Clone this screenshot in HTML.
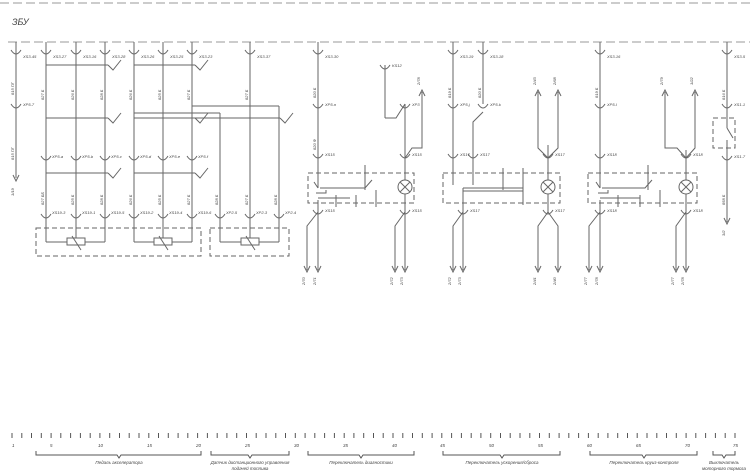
<!DOCTYPE html>
<html><head><meta charset="utf-8"><style>
html,body{margin:0;padding:0;background:#fff;}
svg{display:block}
text{font-family:"Liberation Sans","DejaVu Sans",sans-serif;font-style:italic;fill:#444;}
</style></head><body>
<svg width="750" height="472" viewBox="0 0 750 472" xmlns="http://www.w3.org/2000/svg">
<g stroke="#666" fill="none" stroke-width="1">
<!-- top dashed lines -->
<line x1="0" y1="3" x2="750" y2="3" stroke-dasharray="9,4" stroke="#999"/>
<line x1="8" y1="42" x2="750" y2="42" stroke-dasharray="9,4" stroke="#999"/>

<!-- Section 1 columns -->
<line x1="16" y1="42" x2="16" y2="178"/>
<line x1="46" y1="42" x2="46" y2="242"/>
<line x1="76" y1="42" x2="76" y2="238"/>
<line x1="105" y1="42" x2="105" y2="242"/>
<line x1="134" y1="42" x2="134" y2="242"/>
<line x1="163" y1="42" x2="163" y2="238"/>
<line x1="192" y1="42" x2="192" y2="242"/>
<line x1="250" y1="42" x2="250" y2="238"/>
<line x1="220" y1="113" x2="220" y2="242"/>
<line x1="279" y1="106" x2="279" y2="242"/>
<line x1="192" y1="106" x2="279" y2="106"/>
<line x1="134" y1="113" x2="220" y2="113"/>
<!-- horizontal bars with switch marks -->
<line x1="46" y1="65" x2="108" y2="65"/><path d="M108 65 L113 70 L121 60"/>
<line x1="134" y1="65" x2="195" y2="65"/><path d="M195 65 L200 70 L208 60"/>
<line x1="46" y1="118" x2="108" y2="118"/><path d="M108 118 L113 123 L121 113"/>
<line x1="134" y1="118" x2="280" y2="118"/><path d="M280 118 L285 123 L293 113"/><path d="M195 118 L200 123 L208 113"/>
<line x1="46" y1="173" x2="108" y2="173"/><path d="M108 173 L113 178 L121 168"/>
<line x1="134" y1="173" x2="195" y2="173"/><path d="M195 173 L200 178 L208 168"/>
<!-- bottom connections to resistors -->
<line x1="46" y1="242" x2="67" y2="242"/><line x1="85" y1="242" x2="105" y2="242"/>
<line x1="134" y1="242" x2="154" y2="242"/><line x1="172" y1="242" x2="192" y2="242"/>
<line x1="220" y1="242" x2="241" y2="242"/><line x1="259" y1="242" x2="279" y2="242"/>
<rect x="67" y="238" width="18" height="7"/><rect x="154" y="238" width="18" height="7"/><rect x="241" y="238" width="18" height="7"/>
<line x1="72" y1="236" x2="81" y2="250"/><line x1="159" y1="236" x2="168" y2="250"/><line x1="246" y1="236" x2="255" y2="250"/>
<rect x="36" y="228" width="165" height="28" stroke-dasharray="5,3"/>
<rect x="210" y="228" width="79" height="28" stroke-dasharray="5,3"/>
<path d="M13 175 L16 181 L19 175"/>

<!-- connector cups -->
<g>
<path d="M11 50 Q16 58 21 50"/><path d="M41 50 Q46 58 51 50"/><path d="M71 50 Q76 58 81 50"/><path d="M100 50 Q105 58 110 50"/>
<path d="M129 50 Q134 58 139 50"/><path d="M158 50 Q163 58 168 50"/><path d="M187 50 Q192 58 197 50"/><path d="M245 50 Q250 58 255 50"/>
<path d="M11 104 Q16 112 21 104"/>
<path d="M41 156 Q46 164 51 156"/><path d="M71 156 Q76 164 81 156"/><path d="M100 156 Q105 164 110 156"/>
<path d="M129 156 Q134 164 139 156"/><path d="M158 156 Q163 164 168 156"/><path d="M187 156 Q192 164 197 156"/>
<path d="M41 214 Q46 222 51 214"/><path d="M71 214 Q76 222 81 214"/><path d="M100 214 Q105 222 110 214"/>
<path d="M129 214 Q134 222 139 214"/><path d="M158 214 Q163 222 168 214"/><path d="M187 214 Q192 222 197 214"/>
<path d="M215 214 Q220 222 225 214"/><path d="M245 214 Q250 222 255 214"/><path d="M274 214 Q279 222 284 214"/>
<!-- middle -->
<path d="M313 50 Q318 58 323 50"/><path d="M313 104 Q318 112 323 104"/><path d="M313 154 Q318 162 323 154"/><path d="M313 210 Q318 218 323 210"/>
<path d="M380 65 Q385 73 390 65"/><path d="M400 104 Q405 112 410 104"/><path d="M400 154 Q405 162 410 154"/><path d="M400 210 Q405 218 410 210"/>
<path d="M448 50 Q453 58 458 50"/><path d="M478 50 Q483 58 488 50"/><path d="M448 104 Q453 112 458 104"/><path d="M478 104 Q483 112 488 104"/>
<path d="M448 154 Q453 162 458 154"/><path d="M468 154 Q473 162 478 154"/><path d="M543 154 Q548 162 553 154"/>
<path d="M458 210 Q463 218 468 210"/><path d="M543 210 Q548 218 553 210"/>
<path d="M595 50 Q600 58 605 50"/><path d="M595 104 Q600 112 605 104"/><path d="M595 154 Q600 162 605 154"/><path d="M595 210 Q600 218 605 210"/>
<path d="M681 154 Q686 162 691 154"/><path d="M681 210 Q686 218 691 210"/>
<path d="M722 50 Q727 58 732 50"/><path d="M722 104 Q727 112 732 104"/><path d="M722 156 Q727 164 732 156"/>
</g>

<!-- Section 2: diagnostics -->
<line x1="318" y1="42" x2="318" y2="188"/>
<path d="M318 188 L314 182"/>
<line x1="318" y1="200" x2="318" y2="212"/>
<path d="M318 212 L307 226 L307 270"/><line x1="318" y1="212" x2="318" y2="270"/>
<path d="M304 266 L307 272 L310 266"/><path d="M315 266 L318 272 L321 266"/>
<line x1="385" y1="65" x2="385" y2="118"/><path d="M385 118 L396 118 L405 104"/>
<line x1="405" y1="104" x2="405" y2="180"/><line x1="405" y1="194" x2="405" y2="212"/>
<path d="M405 158 L412 148 L422 148 L422 92"/><path d="M419 96 L422 90 L425 96"/>
<path d="M405 212 L395 226 L395 270"/><line x1="405" y1="212" x2="405" y2="270"/>
<path d="M392 266 L395 272 L398 266"/><path d="M402 266 L405 272 L408 266"/>
<circle cx="405" cy="187" r="7"/><line x1="400" y1="182" x2="410" y2="192"/><line x1="410" y1="182" x2="400" y2="192"/>
<rect x="308" y="173" width="106" height="30" stroke-dasharray="5,3"/>
<path d="M320 188 L365 188 L372 180"/><line x1="365" y1="165" x2="365" y2="190"/>
<path d="M316 193 L326 193 L326 190"/><line x1="318" y1="198" x2="350" y2="198"/>
<line x1="336" y1="195" x2="336" y2="207"/><line x1="356" y1="195" x2="356" y2="207"/><line x1="376" y1="190" x2="376" y2="207"/>

<!-- Section 3 -->
<line x1="453" y1="42" x2="453" y2="185"/><line x1="483" y1="42" x2="483" y2="104"/>
<path d="M483 112 L473 122 L473 185"/>
<rect x="443" y="173" width="117" height="30" stroke-dasharray="5,3"/>
<line x1="463" y1="188" x2="463" y2="212"/><line x1="463" y1="188" x2="523" y2="188"/><line x1="463" y1="191" x2="523" y2="191"/>
<line x1="503" y1="168" x2="503" y2="190"/><line x1="523" y1="168" x2="523" y2="205"/>
<path d="M463 212 L453 226 L453 270"/><line x1="463" y1="212" x2="463" y2="270"/>
<path d="M450 266 L453 272 L456 266"/><path d="M460 266 L463 272 L466 266"/>
<line x1="548" y1="145" x2="548" y2="180"/><line x1="548" y1="194" x2="548" y2="212"/>
<path d="M548 158 L538 148 L538 92"/><path d="M548 158 L558 148 L558 92"/>
<path d="M535 96 L538 90 L541 96"/><path d="M555 96 L558 90 L561 96"/>
<circle cx="548" cy="187" r="7"/><line x1="543" y1="182" x2="553" y2="192"/><line x1="553" y1="182" x2="543" y2="192"/>
<path d="M548 212 L538 226 L538 270"/><path d="M548 212 L558 226 L558 270"/>
<path d="M535 266 L538 272 L541 266"/><path d="M555 266 L558 272 L561 266"/>

<!-- Section 4 -->
<line x1="600" y1="42" x2="600" y2="188"/><path d="M600 188 L596 182"/>
<line x1="600" y1="200" x2="600" y2="212"/>
<path d="M600 212 L589 226 L589 270"/><line x1="600" y1="212" x2="600" y2="270"/>
<path d="M586 266 L589 272 L592 266"/><path d="M597 266 L600 272 L603 266"/>
<rect x="588" y="173" width="109" height="30" stroke-dasharray="5,3"/>
<path d="M602 188 L645 188 L652 180"/><line x1="648" y1="165" x2="648" y2="190"/>
<path d="M598 193 L608 193 L608 190"/><line x1="600" y1="198" x2="640" y2="198"/>
<line x1="618" y1="195" x2="618" y2="207"/><line x1="640" y1="195" x2="640" y2="207"/><line x1="660" y1="190" x2="660" y2="207"/>
<line x1="686" y1="150" x2="686" y2="180"/><line x1="686" y1="194" x2="686" y2="212"/>
<path d="M686 158 L677 148 L665 148 L665 92"/><path d="M686 158 L695 148 L695 92"/>
<path d="M662 96 L665 90 L668 96"/><path d="M692 96 L695 90 L698 96"/>
<circle cx="686" cy="187" r="7"/><line x1="681" y1="182" x2="691" y2="192"/><line x1="691" y1="182" x2="681" y2="192"/>
<path d="M686 212 L676 226 L676 270"/><line x1="686" y1="212" x2="686" y2="270"/>
<path d="M673 266 L676 272 L679 266"/><path d="M683 266 L686 272 L689 266"/>

<!-- Section 5 -->
<line x1="727" y1="42" x2="727" y2="128"/><path d="M727 128 L733 138"/><line x1="727" y1="140" x2="727" y2="222"/>
<rect x="713" y="118" width="22" height="30" stroke-dasharray="5,3"/>
<path d="M724 218 L727 224 L730 218"/>

<!-- ruler -->
<g stroke="#555">
<path d="M12 433 V438 M21.8 433 V438 M31.5 433 V438 M41.3 433 V438 M51.1 433 V438 M60.8 433 V438 M70.6 433 V438 M80.4 433 V438 M90.2 433 V438 M99.9 433 V438 M109.7 433 V438 M119.5 433 V438 M129.2 433 V438 M139 433 V438 M148.8 433 V438 M158.5 433 V438 M168.3 433 V438 M178.1 433 V438 M187.8 433 V438 M197.6 433 V438 M207.4 433 V438 M217.2 433 V438 M226.9 433 V438 M236.7 433 V438 M246.5 433 V438 M256.2 433 V438 M266 433 V438 M275.8 433 V438 M285.5 433 V438 M295.3 433 V438 M305.1 433 V438 M314.8 433 V438 M324.6 433 V438 M334.4 433 V438 M344.2 433 V438 M353.9 433 V438 M363.7 433 V438 M373.5 433 V438 M383.2 433 V438 M393 433 V438 M402.8 433 V438 M412.5 433 V438 M422.3 433 V438 M432.1 433 V438 M441.8 433 V438 M451.6 433 V438 M461.4 433 V438 M471.2 433 V438 M480.9 433 V438 M490.7 433 V438 M500.5 433 V438 M510.2 433 V438 M520 433 V438 M529.8 433 V438 M539.5 433 V438 M549.3 433 V438 M559.1 433 V438 M568.8 433 V438 M578.6 433 V438 M588.4 433 V438 M598.2 433 V438 M607.9 433 V438 M617.7 433 V438 M627.5 433 V438 M637.2 433 V438 M647 433 V438 M656.8 433 V438 M666.5 433 V438 M676.3 433 V438 M686.1 433 V438 M695.8 433 V438 M705.6 433 V438 M715.4 433 V438 M725.2 433 V438 M735 433 V438"/>
<path d="M36 451 V455 H117 L119 458 L121 455 H201 V451"/>
<path d="M211 451 V455 H248 L250 458 L252 455 H289 V451"/>
<path d="M308 451 V455 H359 L361 458 L363 455 H414 V451"/>
<path d="M443 451 V455 H500 L502 458 L504 455 H560 V451"/>
<path d="M590 451 V455 H642 L644 458 L646 455 H697 V451"/>
<path d="M713 451 V455 H722 L724 458 L726 455 H735 V451"/>
</g>
</g>

<text x="12" y="25" font-size="9">ЗБУ</text>
<g font-size="4.5">
<text x="12" y="447">1</text><text x="50" y="447">5</text><text x="98" y="447">10</text><text x="147" y="447">15</text><text x="196" y="447">20</text><text x="245" y="447">25</text><text x="294" y="447">30</text><text x="343" y="447">35</text><text x="392" y="447">40</text><text x="440" y="447">45</text><text x="489" y="447">50</text><text x="538" y="447">55</text><text x="587" y="447">60</text><text x="636" y="447">65</text><text x="685" y="447">70</text><text x="733" y="447">75</text>
<text x="119" y="464" text-anchor="middle">Педаль акселератора</text>
<text x="250" y="464" text-anchor="middle">Датчик дистанционного управления</text>
<text x="250" y="470" text-anchor="middle">подачей топлива</text>
<text x="361" y="464" text-anchor="middle">Переключатель диагностики</text>
<text x="502" y="464" text-anchor="middle">Переключатель ускорения/сброса</text>
<text x="644" y="464" text-anchor="middle">Переключатель круиз-контроля</text>
<text x="724" y="464" text-anchor="middle">Выключатель</text>
<text x="724" y="470" text-anchor="middle">моторного тормоза</text>
</g>
<g font-size="4">
<text x="23" y="58">XS3-45</text><text x="53" y="58">XS3-27</text><text x="83" y="58">XS3-16</text><text x="112" y="58">XS3-28</text>
<text x="141" y="58">XS3-26</text><text x="170" y="58">XS3-25</text><text x="199" y="58">XS3-23</text><text x="257" y="58">XS3-37</text>
<text x="23" y="106">XP5-7</text>
<text x="52" y="158">XP5-a</text><text x="82" y="158">XP5-b</text><text x="111" y="158">XP5-c</text><text x="140" y="158">XP5-d</text><text x="169" y="158">XP5-e</text><text x="198" y="158">XP5-f</text>
<text x="52" y="214">XS19-3</text><text x="82" y="214">XS19-1</text><text x="111" y="214">XS19-5</text><text x="140" y="214">XS19-2</text><text x="169" y="214">XS19-4</text><text x="198" y="214">XS19-6</text>
<text x="226" y="214">XP2-5</text><text x="256" y="214">XP2-3</text><text x="285" y="214">XP2-4</text>
<text x="325" y="58">XS3-30</text><text x="325" y="106">XP5-n</text><text x="325" y="156">XS15</text><text x="325" y="212">XS15</text>
<text x="392" y="67">KS12</text><text x="412" y="106">XP3</text><text x="412" y="156">XS15</text><text x="412" y="212">XS15</text>
<text x="460" y="58">XS3-19</text><text x="490" y="58">XS3-18</text><text x="460" y="106">XP5-j</text><text x="490" y="106">XP5-k</text>
<text x="460" y="156">XS17</text><text x="480" y="156">XS17</text><text x="555" y="156">XS17</text><text x="470" y="212">XS17</text><text x="555" y="212">XS17</text>
<text x="607" y="58">XS3-16</text><text x="607" y="106">XP5-l</text><text x="607" y="156">XS18</text><text x="607" y="212">XS18</text>
<text x="693" y="156">XS18</text><text x="693" y="212">XS18</text>
<text x="734" y="58">XS3-5</text><text x="734" y="106">XS1-1</text><text x="734" y="158">XS1-7</text>
</g>
<g font-size="4">
<text transform="translate(14,95) rotate(-90)">815 ПГ</text><text transform="translate(14,160) rotate(-90)">815 ПГ</text><text transform="translate(14,196) rotate(-90)">1/19</text>
<text transform="translate(44,100) rotate(-90)">827 Б</text><text transform="translate(74,100) rotate(-90)">826 Б</text><text transform="translate(103,100) rotate(-90)">828 Б</text>
<text transform="translate(132,100) rotate(-90)">826 Б</text><text transform="translate(161,100) rotate(-90)">825 Б</text><text transform="translate(190,100) rotate(-90)">827 Б</text><text transform="translate(248,100) rotate(-90)">827 Б</text>
<text transform="translate(44,205) rotate(-90)">827 ББ</text><text transform="translate(74,205) rotate(-90)">825 Б</text><text transform="translate(103,205) rotate(-90)">828 Б</text>
<text transform="translate(132,205) rotate(-90)">826 Б</text><text transform="translate(161,205) rotate(-90)">825 Б</text><text transform="translate(190,205) rotate(-90)">827 Б</text>
<text transform="translate(218,205) rotate(-90)">828 Б</text><text transform="translate(248,205) rotate(-90)">827 Б</text><text transform="translate(277,205) rotate(-90)">828 Б</text>
<text transform="translate(316,98) rotate(-90)">820 Б</text><text transform="translate(316,150) rotate(-90)">820 Ф</text>
<text transform="translate(316,285) rotate(-90)">2/71</text><text transform="translate(305,285) rotate(-90)">2/70</text>
<text transform="translate(393,285) rotate(-90)">2/72</text><text transform="translate(403,285) rotate(-90)">2/73</text>
<text transform="translate(451,285) rotate(-90)">2/72</text><text transform="translate(461,285) rotate(-90)">2/73</text>
<text transform="translate(536,285) rotate(-90)">2/41</text><text transform="translate(556,285) rotate(-90)">2/40</text>
<text transform="translate(587,285) rotate(-90)">2/77</text><text transform="translate(598,285) rotate(-90)">2/78</text>
<text transform="translate(674,285) rotate(-90)">2/77</text><text transform="translate(684,285) rotate(-90)">2/78</text>
<text transform="translate(725,236) rotate(-90)">3/2</text><text transform="translate(725,205) rotate(-90)">858 Б</text><text transform="translate(725,100) rotate(-90)">816 Б</text>
<text transform="translate(420,85) rotate(-90)">2/78</text><text transform="translate(536,85) rotate(-90)">2/43</text><text transform="translate(556,85) rotate(-90)">2/68</text>
<text transform="translate(663,85) rotate(-90)">2/79</text><text transform="translate(693,85) rotate(-90)">1/22</text>
<text transform="translate(451,98) rotate(-90)">819 Б</text><text transform="translate(481,98) rotate(-90)">820 Б</text><text transform="translate(598,98) rotate(-90)">819 Б</text>
</g>
</svg>
</body></html>
